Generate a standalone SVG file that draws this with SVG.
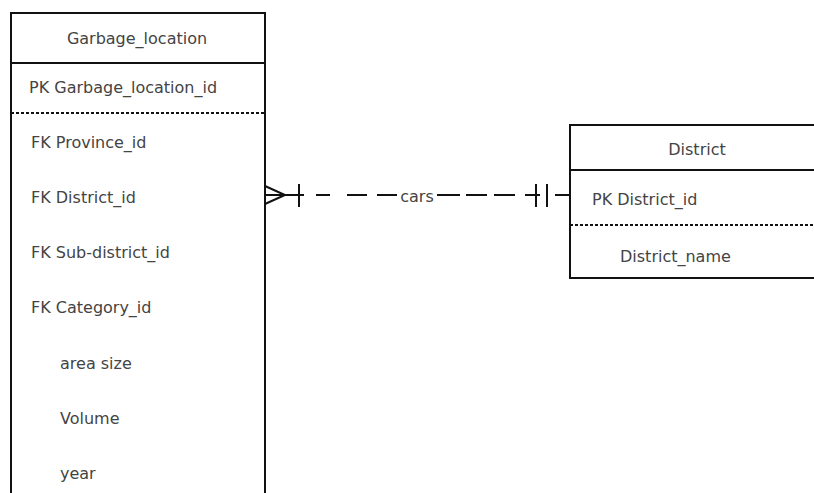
<svg xmlns="http://www.w3.org/2000/svg" width="814" height="493" viewBox="0 0 814 493">
  <style>
    .frame { fill: none; stroke: #111; stroke-width: 2; }
    .sep { stroke: #111; stroke-width: 2; }
    .dot { stroke: #111; stroke-width: 2; stroke-dasharray: 3 2; }
    .lbl { font-family: "DejaVu Sans", "Noto Sans", sans-serif; font-size: 16px; fill: #444; dominant-baseline: middle; }
    .mid { text-anchor: middle; }
    .rel { stroke: #111; stroke-width: 2; fill: none; }
  </style>
  <rect width="814" height="493" fill="#fff"/>

  <g id="garbage_location">
    <path class="frame" d="M11 495 V13 H265 V495"/>
    <line class="sep" x1="11" y1="63" x2="265" y2="63"/>
    <line class="dot" x1="11" y1="113" x2="265" y2="113"/>
    <text class="lbl mid" x="137" y="39">Garbage_location</text>
    <text class="lbl" x="29" y="88">PK Garbage_location_id</text>
    <text class="lbl" x="31" y="143">FK Province_id</text>
    <text class="lbl" x="31" y="198">FK District_id</text>
    <text class="lbl" x="31" y="253">FK Sub-district_id</text>
    <text class="lbl" x="31" y="308">FK Category_id</text>
    <text class="lbl" x="60" y="364">area size</text>
    <text class="lbl" x="60" y="419">Volume</text>
    <text class="lbl" x="60" y="474">year</text>
  </g>

  <g id="district">
    <path class="frame" d="M816 125 H570 V278 H816"/>
    <line class="sep" x1="570" y1="170" x2="814" y2="170"/>
    <line class="dot" x1="570" y1="225" x2="814" y2="225"/>
    <text class="lbl mid" x="697" y="150">District</text>
    <text class="lbl" x="592" y="200">PK District_id</text>
    <text class="lbl" x="620" y="257">District_name</text>
  </g>

  <g id="connectors">
    <!-- many end: crow's foot with a bar -->
    <path class="rel" d="M265 186 L285 195 L265 204"/>
    <line class="rel" x1="265" y1="195" x2="304" y2="195"/>
    <line class="rel" x1="299" y1="184" x2="299" y2="207"/>
    <!-- dashed line, left part -->
    <line class="rel" x1="316" y1="195" x2="330" y2="195"/>
    <line class="rel" x1="347" y1="195" x2="367" y2="195"/>
    <line class="rel" x1="377" y1="195" x2="397" y2="195"/>
    <text class="lbl mid" x="417" y="197">cars</text>
    <!-- dashed line, right part -->
    <line class="rel" x1="437" y1="195" x2="460" y2="195"/>
    <line class="rel" x1="466" y1="195" x2="487" y2="195"/>
    <line class="rel" x1="494" y1="195" x2="515" y2="195"/>
    <line class="rel" x1="525" y1="195" x2="540" y2="195"/>
    <!-- one end: double bar -->
    <line class="rel" x1="536" y1="184" x2="536" y2="207"/>
    <line class="rel" x1="547" y1="184" x2="547" y2="207"/>
    <line class="rel" x1="555" y1="195" x2="570" y2="195"/>
  </g>
</svg>
